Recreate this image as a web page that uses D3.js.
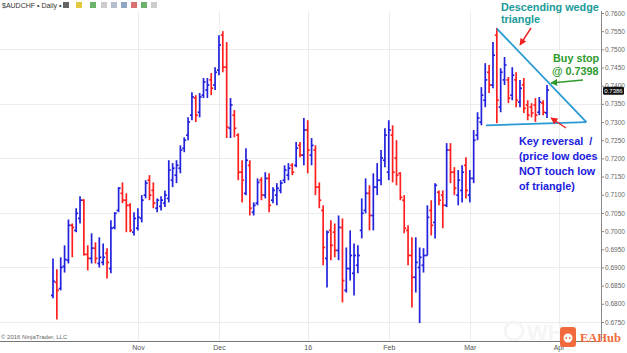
<!DOCTYPE html>
<html>
<head>
<meta charset="utf-8">
<script src="https://d3js.org/d3.v7.min.js"></script>
<style>
  body { margin: 0; background: #fff; }
  svg { display: block; font-family: Arial, 'Liberation Sans', sans-serif; }
  .ann { font-weight: bold; font-size: 10.8px; }
</style>
</head>
<body>
<script>
// AUDCHF daily bars, Oct 2015 - Mar 2016 (one entry per trading day)
var opens = [
  .6823,.6859,.6842,.6903,.6920,.7016,.7002,.7035,.7085,.6936,.6925,.6953,.6911,.6914,.6939,.6897,.7010,.7057,.7104,.7085,
  .7071,.6997,.7008,.7035,.7099,.7140,.7112,.7063,.7068,.7077,.7090,.7140,.7154,.7173,.7228,.7264,.7319,.7366,.7327,.7374,
  .7388,.7416,.7402,.7443,.7539,.7451,.7283,.7319,.7264,.7162,.7104,.7181,.7052,.7077,.7140,.7099,.7145,.7085,.7099,.7112,
  .7140,.7154,.7181,.7181,.7236,.7209,.7278,.7209,.7223,.7121,.7057,.6925,.7002,.6997,.6947,.7010,.6837,.6897,.6884,.6906,
  .7002,.7057,.7104,.7043,.7121,.7140,.7195,.7162,.7264,.7201,.7159,.7085,.7002,.6933,.6873,.6900,.6906,.6933,.7057,.7024,
  .7107,.7099,.7071,.7223,.7162,.7099,.7112,.7181,.7099,.7145,.7264,.7300,.7360,.7437,.7402,.7539,.7341,.7416,.7416,.7374,
  .7416,.7355,.7402,.7347,.7341,.7347,.7327,.7352,.7325];
var highs = [
  .6925,.6895,.6928,.6961,.7032,.7021,.7063,.7096,.7088,.6961,.6994,.6969,.6983,.6966,.6953,.7030,.7052,.7121,.7134,.7104,
  .7077,.7052,.7063,.7099,.7140,.7154,.7134,.7090,.7096,.7112,.7195,.7187,.7195,.7236,.7258,.7313,.7382,.7374,.7380,.7421,
  .7421,.7435,.7451,.7539,.7550,.7520,.7366,.7333,.7269,.7195,.7228,.7195,.7079,.7145,.7148,.7162,.7159,.7121,.7132,.7140,
  .7181,.7187,.7187,.7245,.7245,.7311,.7305,.7256,.7236,.7134,.7071,.7002,.7030,.7021,.7043,.7035,.6955,.7002,.6966,.6961,
  .7090,.7145,.7126,.7159,.7187,.7223,.7283,.7305,.7291,.7250,.7162,.7099,.7016,.6983,.6983,.6955,.6953,.7071,.7085,.7132,
  .7112,.7112,.7242,.7242,.7176,.7168,.7181,.7203,.7168,.7278,.7327,.7396,.7462,.7457,.7520,.7559,.7448,.7479,.7424,.7451,
  .7437,.7416,.7421,.7360,.7352,.7366,.7369,.7360,.7402];
var lows = [
  .6815,.6757,.6837,.6886,.6911,.6928,.6997,.7021,.6933,.6892,.6911,.6911,.6900,.6906,.6870,.6884,.7005,.7052,.7077,.6997,
  .6997,.6988,.7002,.7024,.7090,.7085,.7063,.7052,.7057,.7066,.7079,.7121,.7132,.7159,.7217,.7250,.7305,.7300,.7313,.7366,
  .7366,.7374,.7388,.7429,.7437,.7256,.7256,.7258,.7140,.7079,.7099,.7043,.7043,.7071,.7085,.7090,.7052,.7077,.7071,.7104,
  .7132,.7140,.7154,.7176,.7203,.7181,.7159,.7181,.7099,.7063,.6906,.6845,.6920,.6928,.6920,.6804,.6831,.6864,.6823,.6884,
  .6980,.7049,.7002,.7002,.7099,.7126,.7176,.7140,.7134,.7126,.7085,.6994,.6906,.6790,.6831,.6747,.6886,.6933,.6988,.6980,
  .7071,.7008,.7066,.7132,.7099,.7071,.7079,.7090,.7079,.7132,.7250,.7291,.7341,.7380,.7393,.7297,.7327,.7402,.7352,.7360,
  .7341,.7341,.7325,.7305,.7313,.7300,.7319,.7319,.7311];
var closes = [
  .6862,.6837,.6900,.6922,.7016,.7010,.7049,.7085,.6936,.6925,.6953,.6925,.6928,.6928,.6914,.7008,.7049,.7118,.7085,.7071,
  .7002,.7035,.7038,.7085,.7132,.7099,.7077,.7085,.7085,.7099,.7168,.7173,.7181,.7223,.7250,.7300,.7369,.7319,.7369,.7410,
  .7402,.7393,.7437,.7512,.7451,.7286,.7347,.7283,.7162,.7140,.7195,.7063,.7071,.7134,.7099,.7145,.7071,.7112,.7118,.7132,
  .7168,.7173,.7162,.7228,.7209,.7278,.7223,.7236,.7121,.7085,.6955,.6997,.6961,.6947,.7010,.6864,.6897,.6933,.6933,.6933,
  .7049,.7104,.7043,.7121,.7140,.7201,.7264,.7278,.7162,.7154,.7093,.7008,.6933,.6873,.6914,.6928,.6933,.7038,.7016,.7126,
  .7085,.7071,.7223,.7162,.7118,.7140,.7162,.7112,.7145,.7250,.7311,.7374,.7416,.7402,.7484,.7360,.7437,.7457,.7366,.7429,
  .7360,.7393,.7338,.7319,.7325,.7319,.7355,.7327,.7388];

// month ticks (bar index where the month starts)
var monthIdx = [22, 43, 66, 87, 108, 131];
var monthLabels = ["Nov", "Dec", "16", "Feb", "Mar", "Apr"];

// price axis
var priceTicks = d3.range(0.6750, 0.76001, 0.005);
var gridPrices = [0.7500, 0.7350, 0.7200, 0.7050, 0.6900, 0.6750];
var lastPrice = 0.7386;

// descending wedge: [bar index, price]
var wedgeTop = [[115, 0.7557], [138.2, 0.7300]];
var wedgeBase = [[112.2, 0.7291], [138.2, 0.7300]];

var W = 627, H = 353;
var svg = d3.select("body").append("svg").attr("width", W).attr("height", H);

var x = d3.scaleLinear().domain([0, 128]).range([53, 547]);
var y = d3.scaleLinear().domain([0.6750, 0.7600]).range([322, 13]);
var plotRight = 601, plotTop = 11, plotBottom = 341;

var defs = svg.append("defs");
function marker(id, color) {
  defs.append("marker").attr("id", id).attr("viewBox", "0 0 10 10")
    .attr("refX", 9).attr("refY", 5).attr("markerWidth", 5).attr("markerHeight", 5)
    .attr("orient", "auto")
    .append("path").attr("d", "M0,0 L10,5 L0,10 z").attr("fill", color);
}
marker("arrRed", "#ee2222");
marker("arrGreen", "#2e9a2e");

// toolbar
var tb = svg.append("g");
tb.append("text").attr("x", 2).attr("y", 8).attr("font-size", 7).attr("fill", "#333")
  .text("$AUDCHF \u2022 Daily \u2022");
var icons = [[63, "#333"], [76, "#d8b400"], [90, "#3a9a3a"], [101, "#bbb"], [111, "#9ab"], [121, "#6a8ab0"], [131, "#d04040"], [141, "#3a9a3a"], [151, "#bbb"]];
tb.selectAll("rect").data(icons).enter().append("rect")
  .attr("x", function(d) { return d[0]; }).attr("y", 2).attr("width", 6).attr("height", 6)
  .attr("fill", function(d) { return d[1]; }).attr("opacity", 0.75);

// grid
var grid = svg.append("g").attr("stroke", "#ececec").attr("stroke-width", 1);
grid.selectAll(".hg").data(gridPrices).enter().append("line")
  .attr("x1", 0).attr("x2", plotRight)
  .attr("y1", function(d) { return Math.round(y(d)) + 0.5; })
  .attr("y2", function(d) { return Math.round(y(d)) + 0.5; });
grid.selectAll(".vg").data(monthIdx).enter().append("line")
  .attr("x1", function(d) { return Math.round(x(d)) + 0.5; })
  .attr("x2", function(d) { return Math.round(x(d)) + 0.5; })
  .attr("y1", plotTop).attr("y2", plotBottom);

// faint watermark
svg.append("circle").attr("cx", 514).attr("cy", 331).attr("r", 9)
  .attr("fill", "none").attr("stroke", "#f5f5f5").attr("stroke-width", 3);
svg.append("text").attr("x", 527).attr("y", 340).attr("font-size", 22).attr("font-weight", "bold")
  .attr("fill", "#f5f5f5").text("WH");

// OHLC bars
var bars = d3.range(opens.length).map(function(i) {
  return { i: i, o: opens[i], h: highs[i], l: lows[i], c: closes[i] };
});
var barG = svg.append("g").attr("stroke-width", 1.7);
var b = barG.selectAll("g").data(bars).enter().append("g")
  .attr("stroke", function(d) { return d.c >= d.o ? "#2222dd" : "#ff1f1f"; });
b.append("line")
  .attr("x1", function(d) { return x(d.i); }).attr("x2", function(d) { return x(d.i); })
  .attr("y1", function(d) { return y(d.h); }).attr("y2", function(d) { return y(d.l); });
b.append("line")
  .attr("x1", function(d) { return x(d.i) - 2; }).attr("x2", function(d) { return x(d.i); })
  .attr("y1", function(d) { return y(d.o); }).attr("y2", function(d) { return y(d.o); });
b.append("line")
  .attr("x1", function(d) { return x(d.i); }).attr("x2", function(d) { return x(d.i) + 2; })
  .attr("y1", function(d) { return y(d.c); }).attr("y2", function(d) { return y(d.c); });

// wedge lines
var wl = d3.line().x(function(d) { return x(d[0]); }).y(function(d) { return y(d[1]); });
[wedgeTop, wedgeBase].forEach(function(seg) {
  svg.append("path").attr("d", wl(seg)).attr("fill", "none")
    .attr("stroke", "#2b9ad4").attr("stroke-width", 1.8);
});

// right price axis
var ax = svg.append("g").attr("transform", "translate(" + plotRight + ",0)")
  .call(d3.axisRight(y).tickValues(priceTicks).tickSize(3).tickPadding(1)
    .tickFormat(d3.format(".4f")));
ax.select(".domain").remove();
ax.selectAll("line").attr("stroke", "#888");
ax.selectAll("text").attr("font-size", 6.5).attr("fill", "#666").attr("font-family", "Arial, 'Liberation Sans', sans-serif");
svg.append("line").attr("x1", plotRight + 0.5).attr("x2", plotRight + 0.5)
  .attr("y1", plotTop).attr("y2", plotBottom).attr("stroke", "#888");

// last price tag
svg.append("rect").attr("x", 603).attr("y", y(lastPrice) - 4).attr("width", 21).attr("height", 8)
  .attr("rx", 1.5).attr("fill", "#111");
svg.append("text").attr("x", 613.5).attr("y", y(lastPrice) + 2.3).attr("text-anchor", "middle")
  .attr("font-size", 6).attr("fill", "#fff").text(d3.format(".4f")(lastPrice));

// bottom axis
svg.append("line").attr("x1", 0).attr("x2", plotRight).attr("y1", plotBottom + 0.5).attr("y2", plotBottom + 0.5)
  .attr("stroke", "#777");
var bx = svg.append("g").attr("transform", "translate(0," + plotBottom + ")")
  .call(d3.axisBottom(x).tickValues(monthIdx).tickSize(0).tickPadding(4)
    .tickFormat(function(d, i) { return monthLabels[i]; }));
bx.select(".domain").remove();
bx.selectAll("text").attr("font-size", 7).attr("fill", "#555").attr("font-family", "Arial, 'Liberation Sans', sans-serif");

svg.append("text").attr("x", 1).attr("y", 339).attr("font-size", 6).attr("fill", "#666")
  .text("\u00a9 2016 NinjaTrader, LLC");

// annotations
svg.append("text").attr("class", "ann").attr("x", 501).attr("y", 11).attr("fill", "#1a9a98").text("Descending wedge");
svg.append("text").attr("class", "ann").attr("x", 501).attr("y", 23).attr("fill", "#1a9a98").text("triangle");
svg.append("line").attr("x1", 531).attr("y1", 28).attr("x2", 520).attr("y2", 45)
  .attr("stroke", "#ee2222").attr("stroke-width", 1.4).attr("marker-end", "url(#arrRed)");

svg.append("text").attr("class", "ann").attr("x", 553).attr("y", 62).attr("fill", "#2e9a2e").text("Buy stop");
svg.append("text").attr("class", "ann").attr("x", 552).attr("y", 75).attr("fill", "#2e9a2e").text("@ 0.7398");
svg.append("line").attr("x1", 583).attr("y1", 80).attr("x2", 551).attr("y2", 83)
  .attr("stroke", "#2e9a2e").attr("stroke-width", 1.4).attr("marker-end", "url(#arrGreen)");

svg.append("line").attr("x1", 566).attr("y1", 128).attr("x2", 551).attr("y2", 118)
  .attr("stroke", "#ee2222").attr("stroke-width", 1.4).attr("marker-end", "url(#arrRed)");
var keyLines = ["Key reversal  /", "(price low does", "NOT touch low", "of triangle)"];
svg.selectAll(".key").data(keyLines).enter().append("text").attr("class", "ann")
  .attr("x", 519).attr("y", function(d, i) { return 145 + i * 15; })
  .attr("fill", "#2020dd").style("white-space", "pre").text(function(d) { return d; });

// EAHub badge
svg.append("rect").attr("x", 560).attr("y", 327).attr("width", 16).attr("height", 20).attr("rx", 3).attr("fill", "#f26a3c");
svg.append("circle").attr("cx", 568).attr("cy", 338).attr("r", 4.5).attr("fill", "#fff");
svg.append("circle").attr("cx", 566.3).attr("cy", 338).attr("r", 0.9).attr("fill", "#f26a3c");
svg.append("circle").attr("cx", 569.7).attr("cy", 338).attr("r", 0.9).attr("fill", "#f26a3c");
svg.append("text").attr("x", 580).attr("y", 342).attr("font-size", 12.5).attr("font-weight", "bold")
  .attr("font-family", "'Liberation Serif', serif").attr("fill", "#f26a3c").text("EAHub");
</script>
</body>
</html>
